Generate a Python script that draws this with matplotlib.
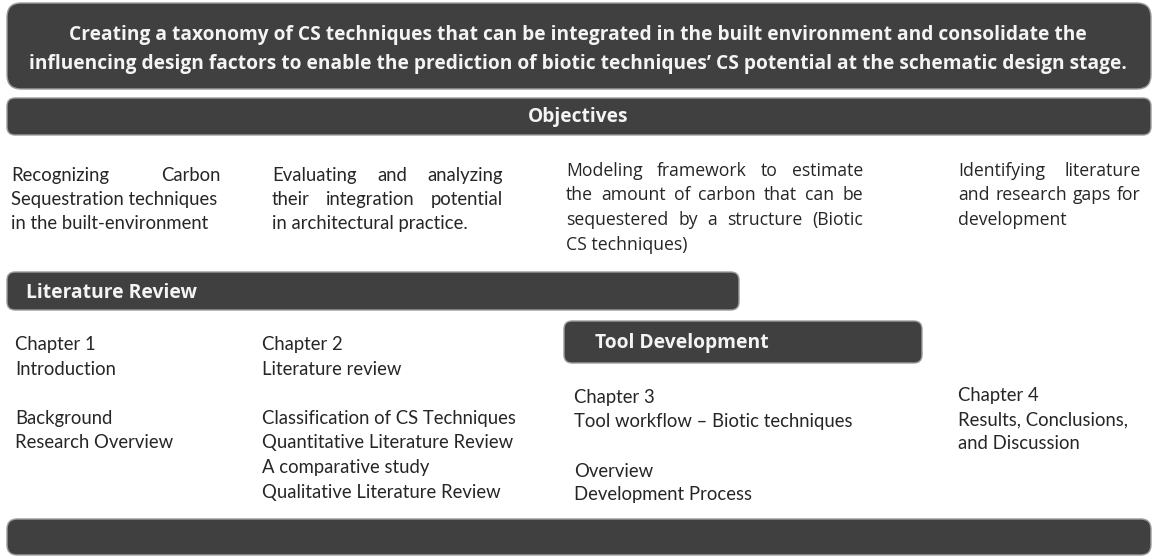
import matplotlib
matplotlib.use("Agg")
import matplotlib.pyplot as plt
from matplotlib.patches import FancyBboxPatch

# ---------------- data (texts) ----------------
header_lines = [
    "Creating a taxonomy of CS techniques that can be integrated in the built environment and consolidate the",
    "influencing design factors to enable the prediction of biotic techniques\u2019 CS potential at the schematic design stage.",
]
objectives_title = "Objectives"
objective_1 = ["Recognizing Carbon", "Sequestration techniques", "in the built-environment"]
objective_2 = ["Evaluating and analyzing", "their integration potential", "in architectural practice."]
objective_3 = ["Modeling framework to estimate", "the amount of carbon that can be",
               "sequestered by a structure (Biotic", "CS techniques)"]
objective_4 = ["Identifying literature", "and research gaps for", "development"]
section_titles = ["Literature Review", "Tool Development"]
chapter_1 = ["Chapter 1", "Introduction", "", "Background", "Research Overview"]
chapter_2 = ["Chapter 2", "Literature review", "", "Classification of CS Techniques",
             "Quantitative Literature Review", "A comparative study", "Qualitative Literature Review"]
chapter_3 = ["Chapter 3", "Tool workflow \u2013 Biotic techniques", "", "Overview", "Development Process"]
chapter_4 = ["Chapter 4", "Results, Conclusions,", "and Discussion"]

# ---------------- figure ----------------
W, H = 1157, 556
fig = plt.figure(figsize=(W / 100, H / 100), dpi=100)
ax = fig.add_axes([0, 0, 1, 1])
ax.set_xlim(0, W)
ax.set_ylim(H, 0)
ax.axis("off")
renderer = fig.canvas.get_renderer()

BOX = "#404040"
EDGE = "#9c9c9c"
TXT = "#262626"
WHITE = "#f4f4f4"

BODY = "Lato"
BODY2 = "Open Sans"
BOLD = "Open Sans"


def width_of(s, family, size, weight="normal"):
    t = ax.text(0, 0, s, fontsize=size, family=family, fontweight=weight)
    w = t.get_window_extent(renderer).width
    t.remove()
    return w


def fit(s, family, target, weight="normal"):
    return 20 * target / width_of(s, family, 20, weight)


def box(x0, y0, x1, y1, r):
    p = FancyBboxPatch((x0, y0), x1 - x0, y1 - y0,
                       boxstyle=f"round,pad=0,rounding_size={r}",
                       fc=BOX, ec=EDGE, lw=1.0, zorder=1)
    ax.add_patch(p)


def justified(lines, x0, x1, baselines, family, size, n_just):
    for i, (line, yb) in enumerate(zip(lines, baselines)):
        words = line.split()
        if i < n_just and len(words) > 1:
            ws = [width_of(w, family, size) for w in words]
            gap = (x1 - x0 - sum(ws)) / (len(words) - 1)
            x = x0
            for w, wd in zip(words, ws):
                ax.text(x, yb, w, fontsize=size, family=family, color=TXT,
                        va="baseline", ha="left")
                x += wd + gap
        else:
            ax.text(x0, yb, line, fontsize=size, family=family, color=TXT,
                    va="baseline", ha="left")


def plain(lines, x0, baselines, family, size):
    for line, yb in zip(lines, baselines):
        if line:
            ax.text(x0, yb, line, fontsize=size, family=family, color=TXT,
                    va="baseline", ha="left")


# ---------------- boxes ----------------
box(7, 3, 1151, 89, 14)
box(7, 98, 1151, 135, 8)
box(7, 272, 739, 310, 8)
box(564, 321, 922, 363, 8)
box(7, 519, 1151, 555, 10)

# ---------------- header text ----------------
hsize = fit(header_lines[1], BOLD, 1091, "bold")
ax.text(578, 40, header_lines[0], fontsize=hsize, family=BOLD, fontweight="bold",
        color=WHITE, ha="center", va="baseline")
ax.text(578, 69, header_lines[1], fontsize=hsize, family=BOLD, fontweight="bold",
        color=WHITE, ha="center", va="baseline")
ax.text(578, 122, objectives_title, fontsize=hsize, family=BOLD, fontweight="bold",
        color=WHITE, ha="center", va="baseline")

ssize = fit(section_titles[1], BOLD, 173, "bold")
ax.text(26, 298, section_titles[0], fontsize=ssize, family=BOLD, fontweight="bold",
        color=WHITE, ha="left", va="baseline")
ax.text(595, 348, section_titles[1], fontsize=ssize, family=BOLD, fontweight="bold",
        color=WHITE, ha="left", va="baseline")

# ---------------- objectives ----------------
bsize = fit("Quantitative Literature Review", BODY, 252)
osize = fit("CS techniques)", BODY2, 121)

justified(objective_1, 11, 221, [181, 205, 229], BODY, bsize, 1)
justified(objective_2, 272, 503, [181, 205, 229], BODY, bsize, 2)
justified(objective_3, 566, 863, [176, 200.5, 225, 249.5], BODY2, osize, 3)
justified(objective_4, 958, 1141, [176, 200.5, 225], BODY2, osize, 2)

# ---------------- chapters ----------------
plain(chapter_1, 15, [350, 375, 399, 424, 448], BODY, bsize)
plain(chapter_2, 262, [350, 375, 399, 424, 448, 473, 498], BODY, bsize)
plain(chapter_3, 574, [403, 427, 452, 477, 500], BODY, bsize)
plain(chapter_4, 958, [401, 425, 449], BODY, bsize)

fig.savefig("out.png", dpi=100, facecolor="white")
